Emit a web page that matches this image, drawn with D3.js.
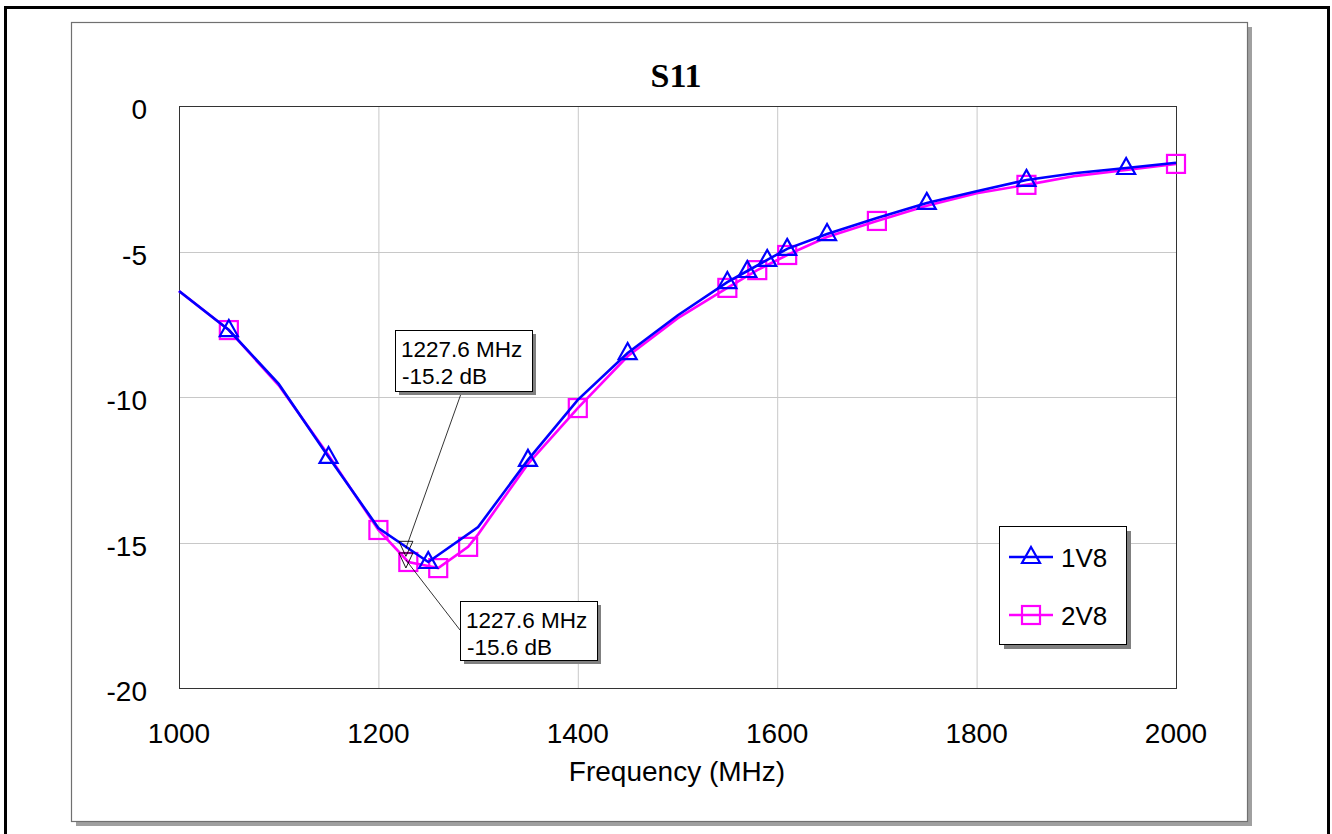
<!DOCTYPE html>
<html>
<head>
<meta charset="utf-8">
<script src="https://cdn.jsdelivr.net/npm/d3@7"></script>
<style>
  body { margin: 0; background: #fff; }
  text { font-family: Arial, "Liberation Sans", sans-serif; }
</style>
</head>
<body>
<svg width="1332" height="834"></svg>
<script>
// Data
const freq1V8 = [1000, 1050, 1100, 1150, 1200, 1250, 1300, 1350, 1400, 1450, 1500, 1550, 1570, 1590, 1610, 1650, 1700, 1750, 1800, 1850, 1900, 1950, 2000];
const s11_1V8 = [-6.36, -7.7, -9.55, -12.06, -14.5, -15.67, -14.47, -12.16, -10.1, -8.49, -7.2, -6.05, -5.67, -5.29, -4.91, -4.4, -3.85, -3.33, -2.93, -2.54, -2.3, -2.13, -1.95];
const markers1V8 = [1050, 1150, 1250, 1350, 1450, 1550, 1570, 1590, 1610, 1650, 1750, 1850, 1950];

const freq2V8 = [1000, 1050, 1100, 1150, 1200, 1230, 1260, 1290, 1300, 1350, 1400, 1450, 1500, 1550, 1580, 1610, 1650, 1700, 1750, 1800, 1850, 1900, 1950, 2000];
const s11_2V8 = [-6.36, -7.7, -9.6, -12.0, -14.57, -15.67, -15.88, -15.15, -14.72, -12.3, -10.38, -8.6, -7.3, -6.25, -5.64, -5.12, -4.5, -3.95, -3.43, -3.0, -2.71, -2.4, -2.2, -1.99];
const markers2V8 = [1050, 1200, 1230, 1260, 1290, 1400, 1550, 1580, 1610, 1700, 1850, 2000];

const xTicks = [1000, 1200, 1400, 1600, 1800, 2000];
const yTicks = [0, -5, -10, -15, -20];

// marker readouts
const markerFreq = [1227.6, 1227.6];
const markerDb = [-15.2, -15.6];

const svg = d3.select("svg");

// outer frame
svg.append("rect")
  .attr("x", 5.5).attr("y", 7.5)
  .attr("width", 1323).attr("height", 840)
  .attr("fill", "none").attr("stroke", "#000").attr("stroke-width", 3);

// panel with shadow
svg.append("rect")
  .attr("x", 76).attr("y", 27).attr("width", 1176).attr("height", 799)
  .attr("fill", "#a0a0a0");
svg.append("rect")
  .attr("x", 71.5).attr("y", 22.5).attr("width", 1176).attr("height", 799)
  .attr("fill", "#fff").attr("stroke", "#707070").attr("stroke-width", 1.2);

const x = d3.scaleLinear().domain([1000, 2000]).range([179, 1176]);
const y = d3.scaleLinear().domain([-20, 0]).range([688, 106]);

// grid
svg.append("g")
  .selectAll("line")
  .data(xTicks.slice(1, -1))
  .join("line")
  .attr("x1", d => x(d) + 0.5).attr("x2", d => x(d) + 0.5)
  .attr("y1", y(0)).attr("y2", y(-20))
  .attr("stroke", "#c8c8c8");
svg.append("g")
  .selectAll("line")
  .data(yTicks.slice(1, -1))
  .join("line")
  .attr("y1", d => Math.round(y(d)) + 0.5).attr("y2", d => Math.round(y(d)) + 0.5)
  .attr("x1", x(1000)).attr("x2", x(2000))
  .attr("stroke", "#c8c8c8");

// plot border
svg.append("rect")
  .attr("x", x(1000) + 0.5).attr("y", y(0) + 0.5)
  .attr("width", x(2000) - x(1000)).attr("height", y(-20) - y(0))
  .attr("fill", "none").attr("stroke", "#333");

// tick labels
svg.append("g")
  .selectAll("text")
  .data(yTicks)
  .join("text")
  .attr("x", 147).attr("y", d => y(d) + 13)
  .attr("text-anchor", "end")
  .attr("font-size", 28)
  .text(d => d);
svg.append("g")
  .selectAll("text")
  .data(xTicks)
  .join("text")
  .attr("x", d => x(d)).attr("y", 743)
  .attr("text-anchor", "middle")
  .attr("font-size", 28)
  .text(d => d);

svg.append("text")
  .attr("x", 677).attr("y", 781)
  .attr("text-anchor", "middle")
  .attr("font-size", 28)
  .text("Frequency (MHz)");

svg.append("text")
  .attr("x", 676).attr("y", 87)
  .attr("text-anchor", "middle")
  .attr("font-size", 34)
  .attr("font-weight", "bold")
  .style("font-family", "'Liberation Serif', 'Times New Roman', serif")
  .text("S11");

const line = d3.line().x(d => x(d[0])).y(d => y(d[1]));

const series = [
  { name: "2V8", f: freq2V8, v: s11_2V8, m: markers2V8, color: "#ff00ff", shape: "square" },
  { name: "1V8", f: freq1V8, v: s11_1V8, m: markers1V8, color: "#0000ff", shape: "triangle" }
];

function drawMarker(g, shape, cx, cy, color) {
  if (shape === "square") {
    g.append("rect")
      .attr("x", cx - 9).attr("y", cy - 9).attr("width", 18).attr("height", 18)
      .attr("fill", "none").attr("stroke", color).attr("stroke-width", 2.2);
  } else {
    g.append("path")
      .attr("d", "M0,-10L9,6L-9,6Z")
      .attr("transform", `translate(${cx},${cy})`)
      .attr("fill", "none").attr("stroke", color).attr("stroke-width", 2.2);
  }
}

series.forEach(s => {
  const pts = s.f.map((f, i) => [f, s.v[i]]);
  svg.append("path")
    .datum(pts)
    .attr("d", line)
    .attr("fill", "none")
    .attr("stroke", s.color)
    .attr("stroke-width", 2.6);
  const mg = svg.append("g");
  s.m.forEach(f => {
    const i = s.f.indexOf(f);
    drawMarker(mg, s.shape, x(f), y(s.v[i]), s.color);
  });
});

// marker readouts (inverted triangles + callout boxes)
const boxes = [
  { bx: 395, by: 330, bw: 137, bh: 61, lx: 462, ly: 391 },
  { bx: 460, by: 601, bw: 137, bh: 59, lx: 460, ly: 630 }
];
markerFreq.forEach((f, i) => {
  const px = x(f), py = y(markerDb[i]);
  const b = boxes[i];
  svg.append("line")
    .attr("x1", b.lx).attr("y1", b.ly).attr("x2", px).attr("y2", py)
    .attr("stroke", "#000").attr("stroke-width", 0.8);
  svg.append("path")
    .attr("d", "M-7,-7L7,-7L0,8Z")
    .attr("transform", `translate(${px},${py})`)
    .attr("fill", "none").attr("stroke", "#000").attr("stroke-width", 0.9);
  svg.append("rect")
    .attr("x", b.bx + 4).attr("y", b.by + 4).attr("width", b.bw).attr("height", b.bh)
    .attr("fill", "#808080");
  svg.append("rect")
    .attr("x", b.bx + 0.5).attr("y", b.by + 0.5).attr("width", b.bw).attr("height", b.bh)
    .attr("fill", "#fff").attr("stroke", "#000").attr("stroke-width", 1);
  svg.append("text")
    .attr("x", b.bx + 6).attr("y", b.by + 27)
    .attr("font-size", 22.5)
    .text(`${f} MHz`);
  svg.append("text")
    .attr("x", b.bx + 7).attr("y", b.by + 54)
    .attr("font-size", 22.5)
    .text(`${markerDb[i]} dB`);
});

// legend
const legend = svg.append("g");
legend.append("rect")
  .attr("x", 1004).attr("y", 531).attr("width", 127).attr("height", 118)
  .attr("fill", "#808080");
legend.append("rect")
  .attr("x", 999.5).attr("y", 526.5).attr("width", 127).attr("height", 118)
  .attr("fill", "#fff").attr("stroke", "#000");
[series[1], series[0]].forEach((s, i) => {
  const ly = 557 + i * 58;
  legend.append("line")
    .attr("x1", 1009).attr("x2", 1053).attr("y1", ly).attr("y2", ly)
    .attr("stroke", s.color).attr("stroke-width", 2.6);
  drawMarker(legend, s.shape, 1031, ly, s.color);
  legend.append("text")
    .attr("x", 1061).attr("y", ly + 10)
    .attr("font-size", 26)
    .text(s.name);
});
</script>
</body>
</html>
